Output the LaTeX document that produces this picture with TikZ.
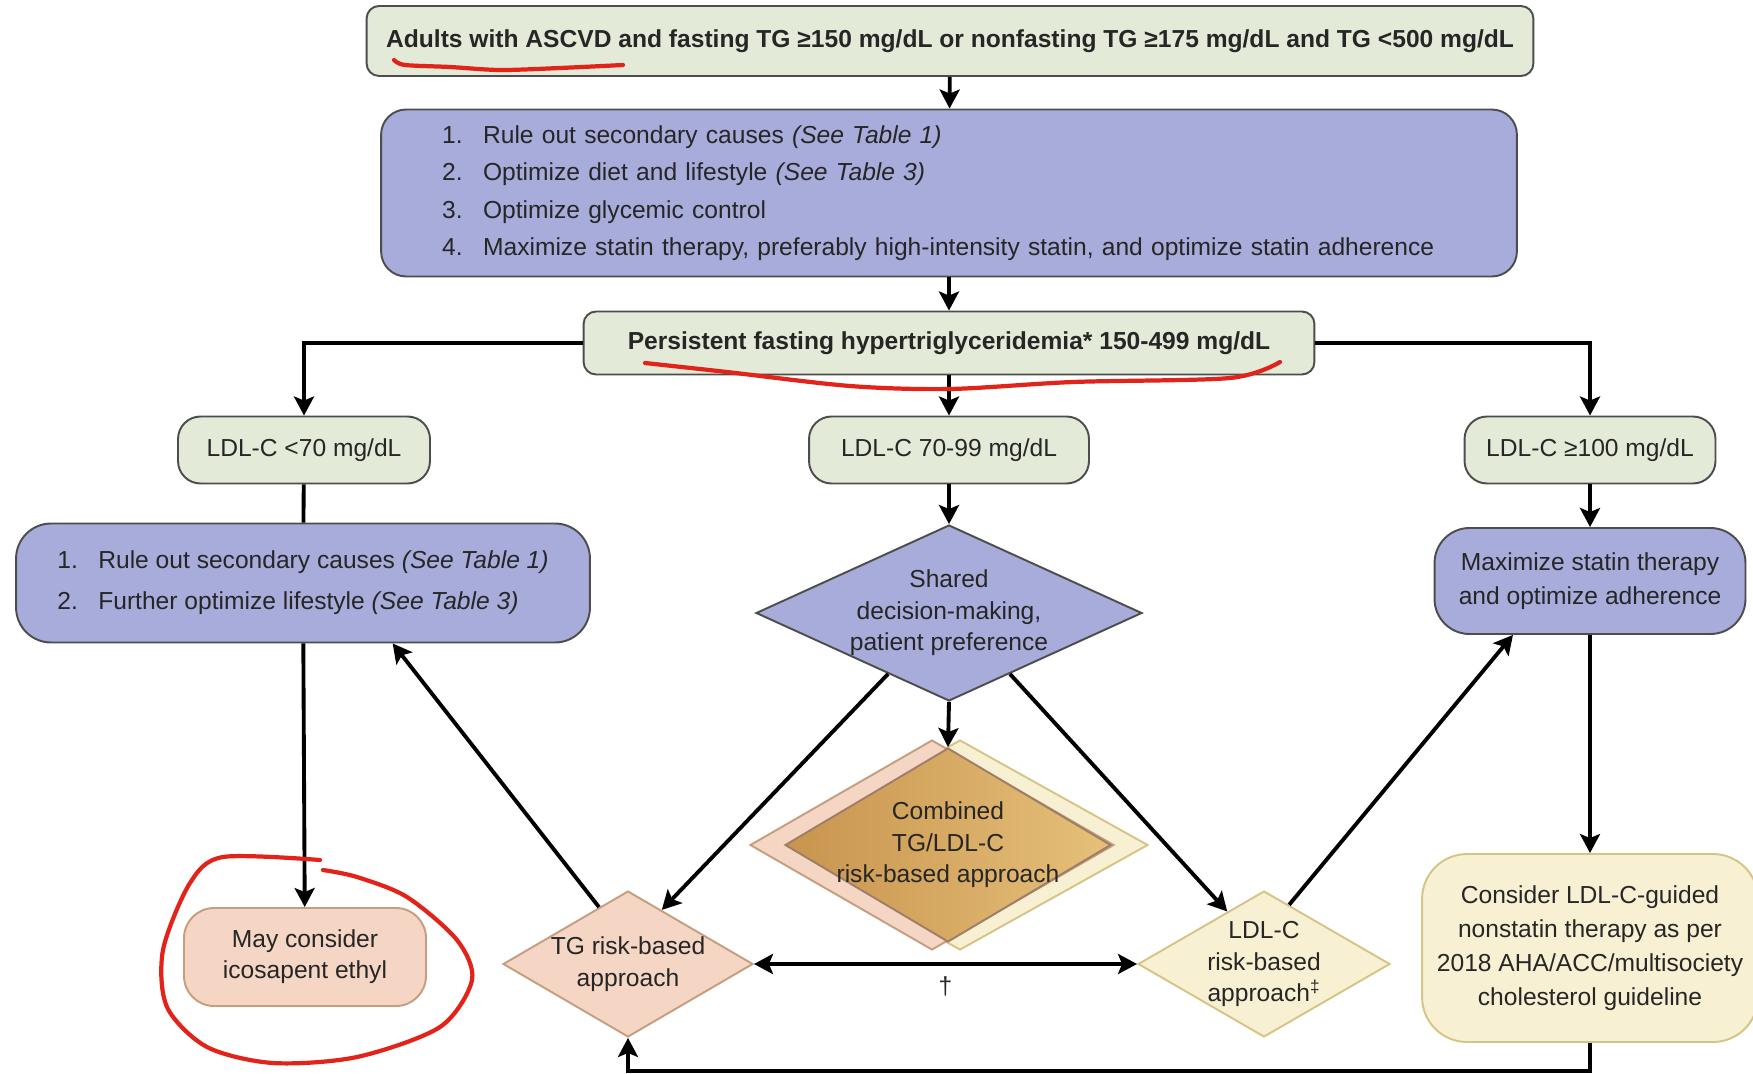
\documentclass[tikz,border=0pt]{standalone}
\usepackage{fontspec}
\setmainfont{Liberation Sans}
\usetikzlibrary{shapes.geometric,arrows.meta}

\definecolor{boxgreen}{HTML}{E3EBD8}
\definecolor{boxblue}{HTML}{A7ACDA}
\definecolor{boxpink}{HTML}{F5D6C4}
\definecolor{boxcream}{HTML}{F8F0D2}
\definecolor{goldL}{HTML}{C8944E}
\definecolor{goldR}{HTML}{E6C07A}
\definecolor{edgegray}{HTML}{4D4D4D}
\definecolor{edgetan}{HTML}{C59E80}
\definecolor{edgesand}{HTML}{D6C486}
\definecolor{inkred}{HTML}{E2231A}
\definecolor{ink}{HTML}{262626}

\newcommand{\stepno}[1]{\makebox[0.82cm][l]{#1}}

\begin{document}
\begin{tikzpicture}[x=0.02cm,y=-0.02cm,
	box/.style={draw=edgegray,line width=1.1pt,align=center,text=ink,inner sep=0pt,font=\fontsize{14pt}{19pt}\selectfont},
	greenbox/.style={box,fill=boxgreen},
	bluebox/.style={box,fill=boxblue},
	pinkbox/.style={box,fill=boxpink,draw=edgetan},
	creambox/.style={box,fill=boxcream,draw=edgesand},
	dia/.style={box,shape=diamond,aspect=2,inner xsep=-0.6cm,inner ysep=-0.3cm,font=\fontsize{14pt}{18pt}\selectfont},
	arr/.style={line width=2.2pt,-{Stealth[length=0.38cm,width=0.4cm,inset=0.08cm]}},
	arrboth/.style={line width=2.2pt,{Stealth[length=0.38cm,width=0.4cm,inset=0.08cm]}-{Stealth[length=0.38cm,width=0.4cm,inset=0.08cm]}},
	plain/.style={line width=2.2pt},
	redpen/.style={inkred,line width=2.4pt,line cap=round,line join=round}]

	\useasboundingbox (0,0) rectangle (1753,1074);

	\node[greenbox,rounded corners=0.25cm,minimum width=23.34cm,minimum height=1.4cm] (adults) at (950,41) {\bfseries Adults with ASCVD and fasting TG ≥150 mg/dL or nonfasting TG ≥175 mg/dL and TG <500 mg/dL};
	\node[bluebox,rounded corners=0.5cm,minimum width=22.72cm,minimum height=3.34cm,text width=20.28cm,align=left,font=\fontsize{14pt}{21.3pt}\selectfont] (optimize) at (949,193) {\stepno{1.}Rule out secondary causes \textit{(See Table 1)}\\ \stepno{2.}Optimize diet and lifestyle \textit{(See Table 3)}\\ \stepno{3.}Optimize glycemic control\\ \stepno{4.}Maximize statin therapy, preferably high-intensity statin, and optimize statin adherence};
	\node[greenbox,rounded corners=0.25cm,minimum width=14.62cm,minimum height=1.26cm] (persist) at (949,343) {\bfseries Persistent fasting hypertriglyceridemia* 150-499 mg/dL};

	\node[greenbox,rounded corners=0.45cm,minimum width=5.04cm,minimum height=1.34cm] (ldlA) at (304,450) {LDL-C <70 mg/dL};
	\node[greenbox,rounded corners=0.45cm,minimum width=5.6cm,minimum height=1.34cm] (ldlB) at (949,450) {LDL-C 70-99 mg/dL};
	\node[greenbox,rounded corners=0.45cm,minimum width=5.02cm,minimum height=1.34cm] (ldlC) at (1590,450) {LDL-C ≥100 mg/dL};

	\node[bluebox,rounded corners=0.7cm,minimum width=11.48cm,minimum height=2.38cm,align=left,font=\fontsize{14pt}{23.2pt}\selectfont] (ruleout) at (303,583) {\stepno{1.}Rule out secondary causes \textit{(See Table 1)}\\ \stepno{2.}Further optimize lifestyle \textit{(See Table 3)}};
	\node[dia,fill=boxblue,minimum width=7.72cm,minimum height=3.52cm] (shared) at (949,613) {Shared\\decision-making,\\patient preference};
	\node[bluebox,rounded corners=0.7cm,minimum width=6.22cm,minimum height=2.12cm,font=\fontsize{14pt}{19.3pt}\selectfont] (maxstatin) at (1590,581) {Maximize statin therapy\\and optimize adherence};

	% combined approach, two shifted diamonds under a golden one
	\node[dia,fill=boxcream,draw=edgesand,inner sep=0pt,minimum width=7.52cm,minimum height=4.2cm] (combcream) at (960,845) {};
	\node[dia,fill=boxpink,draw=edgetan,inner sep=0pt,minimum width=7.28cm,minimum height=4.2cm] (combpink) at (932,845) {};
	\node[dia,draw=edgetan!80!black,left color=goldL,right color=goldR,minimum width=6.52cm,minimum height=3.88cm] (comb) at (948,845) {Combined\\TG/LDL-C\\risk-based approach};

	\node[dia,fill=boxpink,draw=edgetan,minimum width=5.0cm,minimum height=2.92cm] (tgdia) at (628,964) {TG risk-based\\approach};
	\node[dia,fill=boxcream,draw=edgesand,minimum width=5.04cm,minimum height=2.92cm] (ldldia) at (1264,964) {LDL-C\\risk-based\\approach\textsuperscript{\ddag}};

	\node[pinkbox,rounded corners=0.6cm,minimum width=4.84cm,minimum height=1.96cm,font=\fontsize{14pt}{17.5pt}\selectfont] (icosa) at (305,957) {May consider\\icosapent ethyl};
	\node[creambox,rounded corners=0.9cm,minimum width=6.72cm,minimum height=3.76cm,font=\fontsize{14pt}{19.3pt}\selectfont] (nonstatin) at (1590,948) {Consider LDL-C-guided\\nonstatin therapy as per\\2018 AHA/ACC/multisociety\\cholesterol guideline};

	\draw[arr] (adults) -- (optimize);
	\draw[arr] (optimize) -- (persist);
	\draw[arr] (persist.west) -| (ldlA.north);
	\draw[arr] (persist) -- (ldlB);
	\draw[arr] (persist.east) -| (ldlC.north);
	\draw[plain] (ldlA) -- (ruleout);
	\draw[arr] (ldlB) -- (shared);
	\draw[arr] (ldlC) -- (maxstatin);
	\draw[arr] (ruleout) -- (icosa);
	\draw[arr] (maxstatin) -- (nonstatin);
	\draw[arr] (shared.south) -- (comb.north);
	\draw[arr] (shared.-135) -- (tgdia.58);
	\draw[arr] (shared.-45) -- (ldldia.125);
	\draw[arr] (tgdia.117) -- (ruleout.-34);
	\draw[arr] (ldldia.67) -- (maxstatin.-145);
	\draw[arrboth] (tgdia.east) -- node[below=3pt,text=ink,font=\fontsize{14pt}{17pt}\selectfont] (dagger) {\dag} (ldldia.west);
	\draw[arr] (nonstatin.south) -- ++(0,28) -| (tgdia.south);

	% red pen marks
	\draw[redpen] plot[smooth] coordinates {(394,60) (405,65) (450,67) (500,70) (560,68) (623,65)};
	\draw[redpen] plot[smooth] coordinates {(645,363) (727,372) (850,386) (950,389) (1073,382) (1230,378) (1280,362)};
	\draw[redpen] plot[smooth] coordinates {(320,860) (223,857) (190,883) (163,950) (167,1007) (207,1047) (273,1063) (357,1057) (440,1027) (472,980) (457,940) (407,897) (357,877) (323,870)};

\end{tikzpicture}
\end{document}
